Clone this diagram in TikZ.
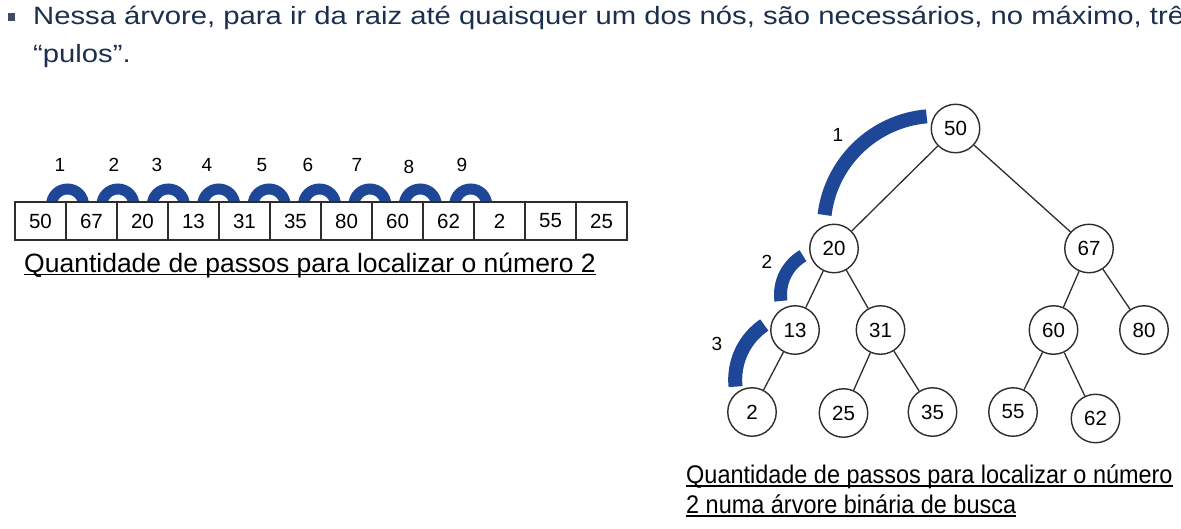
\documentclass[tikz,border=0pt]{standalone}
\usepackage{fontspec}
\setmainfont{Liberation Sans}
\usepackage{graphicx}
\usetikzlibrary{calc}
\definecolor{hdrcol}{RGB}{28,48,78}
\definecolor{bulcol}{RGB}{60,78,100}
\definecolor{arcblue}{RGB}{31,71,152}
\definecolor{linecol}{RGB}{45,45,45}
\begin{document}
\begin{tikzpicture}[x=1pt,y=-1pt,
  cell/.style={draw=linecol, line width=1.4pt, fill=white, minimum width=51pt, minimum height=38pt, inner sep=0pt, font=\fontsize{20.5}{24}\selectfont},
  tnode/.style={circle, draw=linecol, line width=1.4pt, fill=white, minimum size=48.5pt, inner sep=0pt, font=\fontsize{20.5}{24}\selectfont},
  edge/.style={draw=linecol, line width=1.3pt},
  jumparc/.style={draw=arcblue, line width=11pt},
  bigarc/.style={draw=arcblue, line width=14pt},
  steplabel/.style={font=\fontsize{19}{22}\selectfont, inner sep=0pt},
  caption/.style={font=\fontsize{26.5}{30}\selectfont, inner sep=0pt, anchor=base west},
  uline/.style={draw=black, line width=1.5pt},
  hdr/.style={font=\fontsize{25}{29}\selectfont, text=hdrcol, inner sep=0pt, anchor=base west}]

\useasboundingbox (0,0) rectangle (1181,528);
\fill[white] (0,0) rectangle (1181,528);

% header
\fill[bulcol] (7.5,12.5) rectangle (15,20.5);
\node[hdr] (h1) at (33,24) {\scalebox{1.17}[1]{Nessa árvore, para ir da raiz até quaisquer um dos nós, são necessários, no máximo, três}};
\node[hdr] (h2) at (33,62) {\scalebox{1.17}[1]{“pulos”.}};

% array jumps
\foreach \i in {0,...,8} {
  \draw[jumparc] ({67.5+50.4*\i+16},205) arc[start angle=0, end angle=-180, radius=16];
}
\foreach \v [count=\k] in {50,67,20,13,31,35,80,60,62,2,55,25} {
  \node[cell] (c\k) at ({40.5+51*(\k-1)},221) {\v};
}
\foreach \t/\x/\y in {1/60/165, 2/114/165, 3/157/165, 4/207/165, 5/262/165, 6/308/165, 7/357/165, 8/409/167, 9/462/165} {
  \node[steplabel] (s\t) at (\x,\y) {\t};
}
\node[caption] (capL) at (24,272) {Quantidade de passos para localizar o número 2};
\draw[uline] ($(capL.base west)+(0,2.5)$) -- ($(capL.base east)+(0,2.5)$);

% tree jumps
\draw[bigarc] (936.5,228.7) ++(-95:112.8) arc[start angle=-95, end angle=-173, radius=112.8];
\draw[draw=arcblue, line width=13pt] (825.5,294.7) ++(-120:45) arc[start angle=-120, end angle=-188, radius=45];
\draw[bigarc] (801.2,379.7) ++(-124:66) arc[start angle=-124, end angle=-186, radius=66];

% tree nodes
\node[tnode] (n50) at (955.5,128.5) {50};
\node[tnode] (n20) at (834,248.5) {20};
\node[tnode] (n67) at (1089,248.5) {67};
\node[tnode] (n13) at (795,330) {13};
\node[tnode] (n31) at (880.5,330) {31};
\node[tnode] (n60) at (1053.5,330) {60};
\node[tnode] (n80) at (1144,330) {80};
\node[tnode] (n2) at (752,412) {2};
\node[tnode] (n25) at (843.5,413) {25};
\node[tnode] (n35) at (932.5,412) {35};
\node[tnode] (n55) at (1013,412) {55};
\node[tnode] (n62) at (1095.5,418.5) {62};

\draw[edge] (n50) -- (n20);
\draw[edge] (n50) -- (n67);
\draw[edge] (n20) -- (n13);
\draw[edge] (n20) -- (n31);
\draw[edge] (n67) -- (n60);
\draw[edge] (n67) -- (n80);
\draw[edge] (n13) -- (n2);
\draw[edge] (n31) -- (n25);
\draw[edge] (n31) -- (n35);
\draw[edge] (n60) -- (n55);
\draw[edge] (n60) -- (n62);

\node[steplabel] (t1) at (838,135) {1};
\node[steplabel] (t2) at (767,262) {2};
\node[steplabel] (t3) at (717,344) {3};

\node[caption, font=\fontsize{25.5}{30}\selectfont] (capR1) at (686,483.5) {\scalebox{0.92}[1]{Quantidade de passos para localizar o número}};
\node[caption, font=\fontsize{25.5}{30}\selectfont] (capR2) at (686,513.3) {\scalebox{0.92}[1]{2 numa árvore binária de busca}};
\draw[uline] ($(capR1.base west)+(0,2.5)$) -- ($(capR1.base east)+(0,2.5)$);
\draw[uline] ($(capR2.base west)+(0,2.5)$) -- ($(capR2.base east)+(0,2.5)$);
\end{tikzpicture}
\end{document}
